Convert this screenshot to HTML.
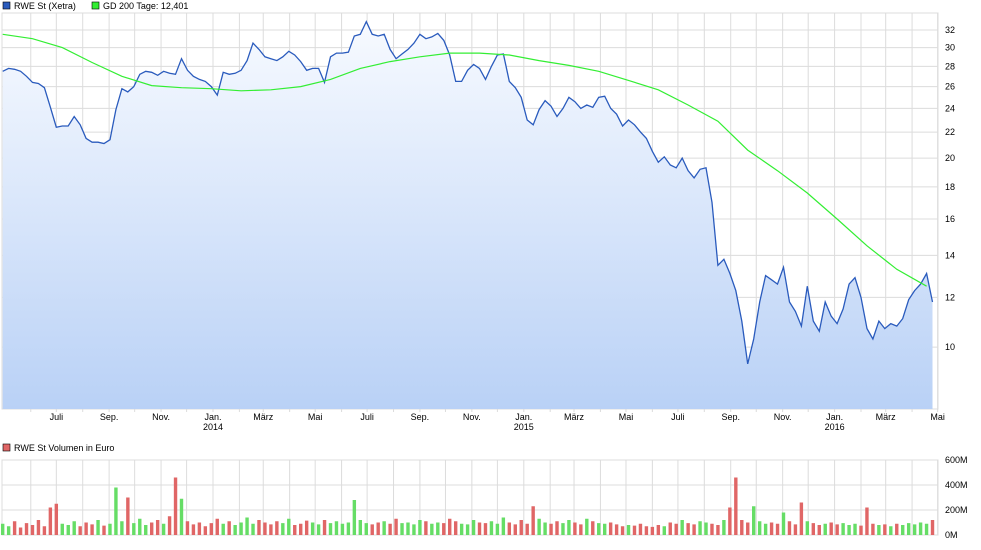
<!DOCTYPE html>
<html><head><meta charset="utf-8"><style>
body{margin:0;background:#fff;}
svg text{font-family:"Liberation Sans",sans-serif;font-size:9px;fill:#000;}
</style></head><body>
<svg id="c" width="981" height="545" xmlns="http://www.w3.org/2000/svg">
<defs><linearGradient id="fg" x1="0" y1="0" x2="0" y2="1"><stop offset="0" stop-color="#f7faff"/><stop offset="1" stop-color="#b9d1f6"/></linearGradient></defs>
<g>
<rect x="3" y="2" width="7" height="7" fill="#2a5bbd" stroke="#000" stroke-width="0.6"/>
<text x="14" y="9">RWE St (Xetra)</text>
<rect x="92" y="2" width="7" height="7" fill="#33ee33" stroke="#000" stroke-width="0.6"/>
<text x="103" y="9">GD 200 Tage: 12,401</text>
</g>
<g>
<rect x="3" y="444" width="7" height="7" fill="#e06666" stroke="#000" stroke-width="0.6"/>
<text x="14" y="451">RWE St Volumen in Euro</text>
</g>
<g id="grid"></g><g id="marks"></g><g id="labels"></g>
</svg>
<script>
const prices=[27.5,27.8,27.7,27.5,27.0,26.4,26.3,25.9,24.1,22.4,22.5,22.5,23.3,22.6,21.5,21.2,21.2,21.1,21.4,23.9,25.8,25.5,26.0,27.2,27.5,27.4,27.1,27.5,27.3,27.2,28.8,27.6,27.0,26.7,26.5,26.0,25.2,27.4,27.2,27.3,27.6,28.6,30.5,29.8,29.0,28.8,28.6,29.0,29.6,29.2,28.5,27.6,27.8,27.8,26.4,29.0,29.4,29.4,29.5,31.3,31.5,33.0,31.5,31.3,31.5,29.8,28.8,29.3,29.8,30.5,31.5,31.0,31.2,31.6,30.8,29.2,26.5,26.5,27.6,28.2,27.8,26.7,28.0,29.2,29.3,26.5,25.9,25.0,23.0,22.6,23.9,24.7,24.2,23.3,24.0,25.0,24.6,24.0,24.3,24.1,25.0,25.1,24.0,23.5,22.5,23.0,22.6,22.0,21.5,20.5,19.7,20.1,19.5,19.3,20.0,19.1,18.6,19.2,19.3,17.0,13.5,13.8,13.1,12.3,11.0,9.4,10.3,11.8,13.0,12.8,12.6,13.4,11.8,11.4,10.8,12.5,11.0,10.6,11.8,11.2,10.9,11.5,12.6,12.9,12.0,10.7,10.3,11.0,10.7,10.9,10.8,11.1,11.9,12.3,12.6,13.1,11.8];
const gd200=[31.5,31.0,30.0,28.4,27.0,26.1,25.9,25.8,25.6,25.7,26.0,26.7,27.8,28.5,29.0,29.4,29.4,29.2,28.6,28.1,27.5,26.6,25.7,24.3,22.9,20.6,19.1,17.6,16.0,14.5,13.3,12.5];
const gdStepWeeks=5;
const volumes=[90,70,110,60,95,80,120,70,220,250,90,80,110,70,100,85,120,75,90,380,110,300,95,130,80,100,120,90,150,460,290,110,85,100,70,95,130,90,110,80,100,140,90,120,100,85,110,95,130,80,90,115,100,85,120,95,110,90,100,280,120,95,85,100,110,90,130,95,100,85,120,110,90,100,95,130,110,90,85,120,100,95,110,90,140,100,85,120,90,230,130,100,90,110,95,120,100,85,130,110,95,90,100,85,70,80,75,90,70,65,80,70,100,90,120,95,85,110,100,90,80,120,220,460,120,100,230,110,90,100,90,180,110,85,260,110,95,80,90,100,85,95,80,90,75,220,90,80,85,70,90,80,95,85,100,90,120];
const yTicks=[32,30,28,26,24,22,20,18,16,14,12,10];
const volTicks=[0,200,400,600];
const monthNames=["Jan.","Feb.","März","Apr.","Mai","Juni","Juli","Aug.","Sep.","Okt.","Nov.","Dez."];
const NS="http://www.w3.org/2000/svg";
const L=2,R=938,T=13,B=409,VT=460,VB=535;
const ln32=Math.log(32),pxPerLn=272.6;
function yP(v){return 30+(ln32-Math.log(v))*pxPerLn;}
function xDay(d){return 213+d*0.8515;}
function xWeek(i){return xDay(-247+7*i);}
function yV(v){return VB-(v/600)*(VB-VT);}
function mk(tag,at,parent){const e=document.createElementNS(NS,tag);for(const k in at)e.setAttribute(k,at[k]);document.getElementById(parent).appendChild(e);return e;}
const base=Date.UTC(2014,0,1);
let e;
e=mk('rect',{x:L,y:T,width:R-L,height:B-T,fill:'none',stroke:'#dcdcdc'},'grid');


e=mk('rect',{x:L,y:VT,width:R-L,height:VB-VT,fill:'none',stroke:'#dcdcdc'},'grid');


yTicks.forEach(t=>{const y=yP(t);
 e=mk('line',{x1:L,x2:R,y1:y,y2:y,stroke:'#dcdcdc'},'grid');
 
 
 e=mk('text',{x:945,y:y+3},'labels');e.textContent=t;
 
 
});
volTicks.forEach(t=>{const y=yV(t);
 e=mk('line',{x1:L,x2:R,y1:y,y2:y,stroke:'#dcdcdc'},'grid');
 
 
 e=mk('text',{x:945,y:y+3},'labels');e.textContent=t+'M';
 
 
});
for(let k=0;k<37;k++){
 const yr=2013+Math.floor((5+k)/12),m=(5+k)%12;
 const d=(Date.UTC(yr,m,1)-base)/864e5;const x=xDay(d);
 if(x<=L||x>R+1)continue;
 e=mk('line',{x1:x,x2:x,y1:T,y2:B+3,stroke:'#dcdcdc'},'grid');
 
 
 e=mk('line',{x1:x,x2:x,y1:VT,y2:VB,stroke:'#dcdcdc'},'grid');
 
 
 if(m%2===0){
  e=mk('text',{x:x,y:420,'text-anchor':'middle'},'labels');e.textContent=monthNames[m];
  
  
  if(m===0){e=mk('text',{x:x,y:430,'text-anchor':'middle'},'labels');e.textContent=yr;
   
   }
 }
}
let pts=prices.map((v,i)=>xWeek(i).toFixed(1)+','+yP(v).toFixed(1));
e=mk('polygon',{points:xWeek(0)+','+B+' '+pts.join(' ')+' '+xWeek(prices.length-1)+','+B,fill:'url(#fg)'},'marks');


e=mk('polyline',{points:pts.join(' '),fill:'none',stroke:'#2a5bbd','stroke-width':1.3},'marks');


let gp=gd200.map((v,i)=>xWeek(i*gdStepWeeks).toFixed(1)+','+yP(v).toFixed(1));
e=mk('polyline',{points:gp.join(' '),fill:'none',stroke:'#33ee33','stroke-width':1.2},'marks');


volumes.forEach((v,i)=>{
 const up=i===0||prices[i]>=prices[i-1];
 const x=xWeek(i);
 e=mk('rect',{x:x-1.7,y:yV(v),width:3.4,height:VB-yV(v),fill:up?'#66dd66':'#e06666'},'marks');
 
 
});
</script>
</body></html>
